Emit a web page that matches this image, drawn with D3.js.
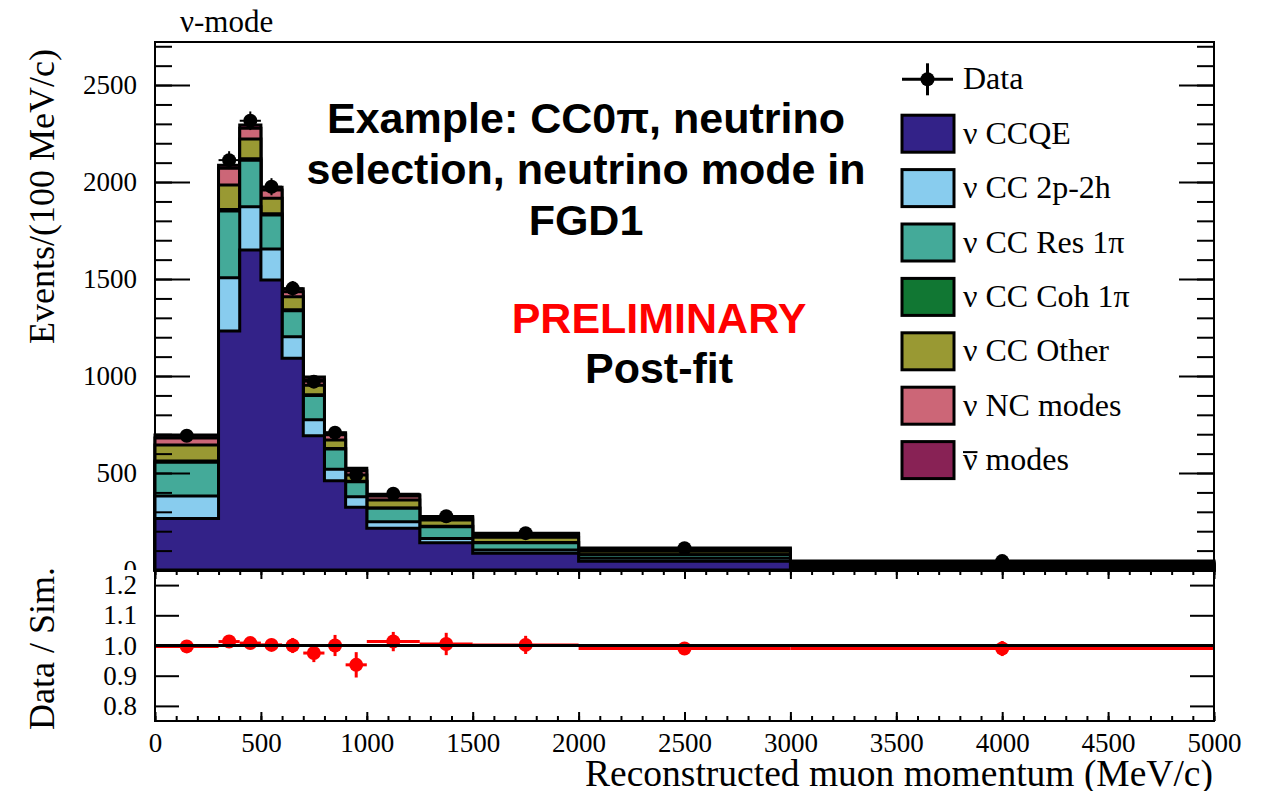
<!DOCTYPE html>
<html><head><meta charset="utf-8">
<script src="https://cdn.jsdelivr.net/npm/d3@7"></script>
<style>body{margin:0;background:#fff}svg{display:block}</style>
</head><body><svg id="c" width="1264" height="791"></svg>
<script>
// ---------------- data ----------------
const binEdges = [0,300,400,500,600,700,800,900,1000,1250,1500,2000,3000,5000];
const seriesNames = ["ν CCQE","ν CC 2p-2h","ν CC Res 1π","ν CC Coh 1π","ν CC Other","ν NC modes","ν modes"];
const seriesBar = [false,false,false,false,false,false,true];
const seriesColors = ["#332288","#88ccee","#44aa99","#117733","#999933","#cc6677","#882255"];
const ccqe  = [266,1232,1650,1495,1092,692,460,323,215,141,86,45,14];
const mec   = [115, 275, 223, 160, 111, 83, 59, 55, 34, 22,17,15, 5];
const res   = [175, 344, 240, 175, 134,125,105, 77, 69, 60,38,18, 8];
const coh   = [  6,   7,   7,   6,   5,  4,  3,  3,  2,  2, 1, 1, 0];
const other = [ 82, 127, 102,  80,  67, 49, 43, 32, 41, 33,27,18, 7];
const nc    = [ 36,  86,  55,  43,  26, 27, 27, 22, 20, 12,14,10, 6];
const anti  = [ 16,  15,  17,  14,  15, 15, 11, 12,  7,  6, 7, 6, 7];
const dataValues = [692,2113,2316,1976,1452,971,708,490,393,277,190,112,46];
const dataErrors = [15,46,48,44,38,31,27,22,12.5,10.5,6.2,3.3,1.5];
const ratioValues = [0.997,1.013,1.008,1.002,1.0,0.975,1.0,0.936,1.013,1.005,1.002,0.99,0.99];
const ratioErrors = [0.02,0.02,0.02,0.02,0.025,0.03,0.035,0.042,0.032,0.037,0.03,0.02,0.025];
const yTicks = [0,500,1000,1500,2000,2500];
const ratioTicks = [0.8,0.9,1.0,1.1,1.2];
const xTicks = [0,500,1000,1500,2000,2500,3000,3500,4000,4500,5000];

// ---------------- layout ----------------
const L=155, R=1214, T=42, M=570, B=721;
const serif = "'Liberation Serif','Times New Roman',serif";
const sans = "'Liberation Sans',Arial,sans-serif";
const svg = d3.select("#c");
const x = d3.scaleLinear().domain([0,5000]).range([L,R]);
const y = d3.scaleLinear().domain([0,2722]).range([M,T]);
const yr = d3.scaleLinear().domain([0.75,1.25]).range([B,M]);
const defs = svg.append("defs");

// ---------------- stacked histogram ----------------
const series = [ccqe,mec,res,coh,other,nc,anti];
const rows = dataValues.map((_,i)=>{const o={}; series.forEach((s,k)=>o[k]=s[i]); return o;});
const stacked = d3.stack().keys(d3.range(series.length))(rows);
const line = d3.line().x(d=>x(d[0])).y(d=>y(d[1]));
defs.append("clipPath").attr("id","topclip")
  .append("rect").attr("x",L-2).attr("y",T).attr("width",R-L+4).attr("height",M-T+2);
defs.append("clipPath").attr("id","padclip")
  .append("rect").attr("x",0).attr("y",0).attr("width",1264).attr("height",M);
const gh = svg.append("g").attr("clip-path","url(#topclip)");
for (let k=series.length-1;k>=0;k--){
  const pts=[[binEdges[0],0]];
  stacked[k].forEach((d,i)=>{pts.push([binEdges[i],d[1]]);pts.push([binEdges[i+1],d[1]]);});
  pts.push([binEdges[binEdges.length-1],0]);
  gh.append("path").attr("d",line(pts)+"Z").attr("fill",seriesColors[k])
    .attr("stroke","#000").attr("stroke-width",3).attr("stroke-linejoin","miter");
}

// ---------------- top axes ----------------
function styleAxis(g){g.select(".domain").remove();
  g.selectAll(".tick line").attr("stroke","#000").attr("stroke-width",2);
  g.selectAll(".tick text").attr("font-family",serif).attr("font-size",27).attr("fill","#000");}
const fmt = d3.format("d");
svg.append("g").attr("transform",`translate(${L},0)`)
  .call(d3.axisLeft(y).tickValues(d3.range(0,2701,100)).tickSize(-17).tickFormat("")).call(styleAxis);
svg.append("g").attr("clip-path","url(#padclip)").append("g").attr("transform",`translate(${L},0)`)
  .call(d3.axisLeft(y).tickValues(yTicks).tickSize(-35).tickPadding(18).tickFormat(fmt)).call(styleAxis);
svg.append("g").attr("transform",`translate(${R},0)`)
  .call(d3.axisRight(y).tickValues(d3.range(0,2701,100)).tickSize(-17).tickFormat("")).call(styleAxis);
svg.append("g").attr("transform",`translate(${R},0)`)
  .call(d3.axisRight(y).tickValues(yTicks).tickSize(-35).tickFormat("")).call(styleAxis);

// ---------------- data points (top) ----------------
const gd = svg.append("g");
dataValues.forEach((v,i)=>{
  const cx = x((binEdges[i]+binEdges[i+1])/2);
  gd.append("line").attr("x1",x(binEdges[i])).attr("x2",x(binEdges[i+1])).attr("y1",y(v)).attr("y2",y(v))
    .attr("stroke","#000").attr("stroke-width",2);
  gd.append("line").attr("x1",cx).attr("x2",cx).attr("y1",y(v-dataErrors[i])).attr("y2",y(v+dataErrors[i]))
    .attr("stroke","#000").attr("stroke-width",2);
  gd.append("circle").attr("cx",cx).attr("cy",y(v)).attr("r",7).attr("fill","#000");
});
svg.append("rect").attr("x",L).attr("y",T).attr("width",R-L).attr("height",M-T)
  .attr("fill","none").attr("stroke","#000").attr("stroke-width",2);

// ---------------- ratio panel ----------------
const gr = svg.append("g");
ratioValues.forEach((v,i)=>{
  const cx = x((binEdges[i]+binEdges[i+1])/2);
  gr.append("line").attr("x1",x(binEdges[i])).attr("x2",x(binEdges[i+1])).attr("y1",yr(v)).attr("y2",yr(v))
    .attr("stroke","#ff0000").attr("stroke-width",3);
  gr.append("line").attr("x1",cx).attr("x2",cx).attr("y1",yr(v-ratioErrors[i])).attr("y2",yr(v+ratioErrors[i]))
    .attr("stroke","#ff0000").attr("stroke-width",3);
  gr.append("circle").attr("cx",cx).attr("cy",yr(v)).attr("r",7).attr("fill","#ff0000");
});
svg.append("line").attr("x1",L).attr("x2",R).attr("y1",yr(1)).attr("y2",yr(1))
  .attr("stroke","#000").attr("stroke-width",3);
svg.append("g").attr("transform",`translate(${L},0)`)
  .call(d3.axisLeft(yr).tickValues(ratioTicks).tickSize(-24).tickPadding(18).tickFormat(d3.format(".1f"))).call(styleAxis);
svg.append("g").attr("transform",`translate(${R},0)`)
  .call(d3.axisRight(yr).tickValues(ratioTicks).tickSize(-24).tickFormat("")).call(styleAxis);
svg.append("g").attr("transform",`translate(0,${B})`)
  .call(d3.axisBottom(x).tickValues(d3.range(0,5001,100)).tickSize(-5).tickFormat("")).call(styleAxis);
svg.append("g").attr("transform",`translate(0,${B})`)
  .call(d3.axisBottom(x).tickValues(xTicks).tickSize(-9).tickPadding(12).tickFormat(fmt)).call(styleAxis);
svg.append("g").attr("transform",`translate(0,${M})`)
  .call(d3.axisTop(x).tickValues(d3.range(0,5001,100)).tickSize(-5).tickFormat("")).call(styleAxis);
svg.append("g").attr("transform",`translate(0,${M})`)
  .call(d3.axisTop(x).tickValues(xTicks).tickSize(-9).tickFormat("")).call(styleAxis);
svg.append("rect").attr("x",L).attr("y",M).attr("width",R-L).attr("height",B-M)
  .attr("fill","none").attr("stroke","#000").attr("stroke-width",2);

// ---------------- titles ----------------
svg.append("text").attr("transform","translate(54,49) rotate(-90)").attr("text-anchor","end")
  .attr("font-family",serif).attr("font-size",36).text("Events/(100 MeV/c)");
svg.append("text").attr("transform","translate(54,567) rotate(-90)").attr("text-anchor","end")
  .attr("font-family",serif).attr("font-size",36).text("Data / Sim.");
svg.append("text").attr("x",1213).attr("y",786).attr("text-anchor","end")
  .attr("font-family",serif).attr("font-size",37.5).text("Reconstructed muon momentum (MeV/c)");
svg.append("text").attr("x",180).attr("y",32).attr("font-family",serif).attr("font-size",31).text("ν-mode");

// ---------------- annotations ----------------
const notes = ["Example: CC0π, neutrino","selection, neutrino mode in","FGD1"];
notes.forEach((t,i)=>svg.append("text").attr("x",586).attr("y",133+51*i).attr("text-anchor","middle")
  .attr("font-family",sans).attr("font-weight","bold").attr("font-size",43).text(t));
svg.append("text").attr("x",659).attr("y",333).attr("text-anchor","middle").attr("fill","#ff0000")
  .attr("font-family",sans).attr("font-weight","bold").attr("font-size",43).text("PRELIMINARY");
svg.append("text").attr("x",659).attr("y",383).attr("text-anchor","middle")
  .attr("font-family",sans).attr("font-weight","bold").attr("font-size",43).text("Post-fit");

// ---------------- legend ----------------
const lg = svg.append("g");
const ly = i=>79.3+54.4*i;
lg.append("line").attr("x1",902).attr("x2",953).attr("y1",ly(0)).attr("y2",ly(0)).attr("stroke","#000").attr("stroke-width",3);
lg.append("line").attr("x1",927.5).attr("x2",927.5).attr("y1",ly(0)-16).attr("y2",ly(0)+16).attr("stroke","#000").attr("stroke-width",3);
lg.append("circle").attr("cx",927.5).attr("cy",ly(0)).attr("r",7).attr("fill","#000");
lg.append("text").attr("x",963).attr("y",ly(0)+10).attr("font-family",serif).attr("font-size",32).text("Data");
seriesNames.forEach((n,k)=>{
  const cy = ly(k+1);
  lg.append("rect").attr("x",902).attr("y",cy-18.5).attr("width",52).attr("height",37)
    .attr("fill",seriesColors[k]).attr("stroke","#000").attr("stroke-width",3);
  const t = lg.append("text").attr("x",963).attr("y",cy+10).attr("font-family",serif).attr("font-size",32);
  if (seriesBar[k]) {
    const first = t.append("tspan").text(n.slice(0,1));
    t.append("tspan").text(n.slice(1));
    const w = first.node().getComputedTextLength();
    lg.append("line").attr("x1",963).attr("x2",963+w).attr("y1",cy-8).attr("y2",cy-8)
      .attr("stroke","#000").attr("stroke-width",2);
  } else t.text(n);
});
</script></body></html>
